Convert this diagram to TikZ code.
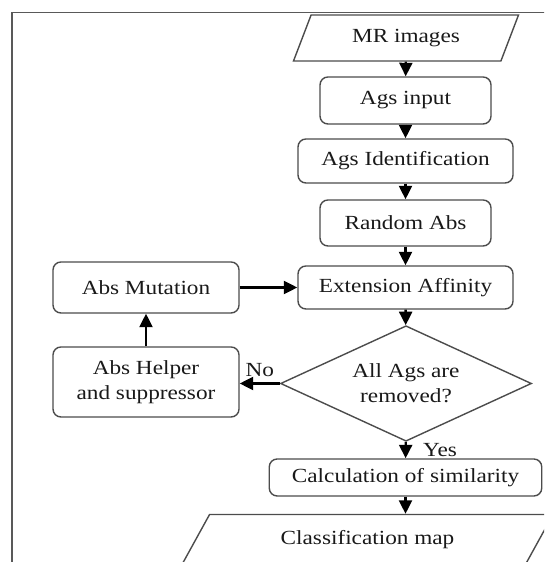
\documentclass[tikz,border=0pt]{standalone}
\usepackage{fontspec}
\setmainfont{Liberation Serif}[FakeStretch=1.16]
\usetikzlibrary{shapes.geometric,arrows.meta,positioning}

\newcommand{\flowfont}{\fontsize{11.4pt}{14.2pt}\selectfont}

\begin{document}
\begin{tikzpicture}[frame/.style={draw=black!65, line width=1.1pt}, box/.style={draw=black!70, line width=0.8pt, rounded corners=4.5pt, minimum width=3.42cm, minimum height=0.92cm, align=center, font=\flowfont, text=black!90}, io/.style={draw=black!70, line width=0.8pt, trapezium, trapezium stretches body, trapezium left angle=45, trapezium right angle=135, minimum height=0.92cm, inner sep=0pt, font=\flowfont, text=black!90}, dec/.style={draw=black!70, line width=0.8pt, diamond, aspect=2.17, minimum width=5.02cm, minimum height=2.31cm, inner sep=0pt, align=center, font=\flowfont, text=black!90}, arr/.style={-{Triangle[length=0.27cm, width=0.26cm]}, line width=1.3pt, black}, lbl/.style={font=\flowfont, text=black!90}]
\useasboundingbox (0,0) rectangle (10.88,11.24); \clip (0,0) rectangle (10.88,11.24);
\draw[frame] (0.24,-1) rectangle (12,10.99);
% main column
\node[io, minimum width=4.5cm] (mr) at (8.12,10.48) {MR images}; \node[box, minimum height=0.94cm] (ain) at (8.11,9.23) {Ags input}; \node[box, minimum width=4.3cm, minimum height=0.88cm] (aid) at (8.11,8.02) {Ags Identification}; \node[box] (rab) at (8.11,6.78) {Random Abs}; \node[box, minimum width=4.3cm, minimum height=0.86cm] (ext) at (8.11,5.49) {Extension Affinity};
\node[dec] (dia) at (8.12,3.57) {All Ags are\\removed?}; \node[box, minimum width=5.45cm, minimum height=0.74cm] (calc) at (8.11,1.69) {Calculation of similarity}; \node[io, trapezium left angle=33.7, trapezium right angle=146.3, minimum width=7.42cm, minimum height=1cm] (cmap) at (7.35,0.45) {Classification map};
% loop on the left
\node[box, minimum width=3.72cm, minimum height=1.02cm] (mut) at (2.92,5.49) {Abs Mutation}; \node[box, minimum width=3.72cm, minimum height=1.4cm] (hlp) at (2.92,3.6) {Abs Helper\\and suppressor};
\draw[arr] (mr) -- (ain); \draw[arr] (ain) -- (aid); \draw[arr] (aid) -- (rab); \draw[arr] (rab) -- (ext); \draw[arr] (ext) -- (dia); \draw[arr] (dia) -- node[lbl, right=6pt] {Yes} (calc); \draw[arr] (calc) -- (calc |- cmap.north);
\draw[arr] (dia.west) -- node[lbl, above] {No} (dia.west -| hlp.east); \draw[arr] (hlp) -- (mut); \draw[arr] (mut) -- (ext);
\end{tikzpicture}
\end{document}
